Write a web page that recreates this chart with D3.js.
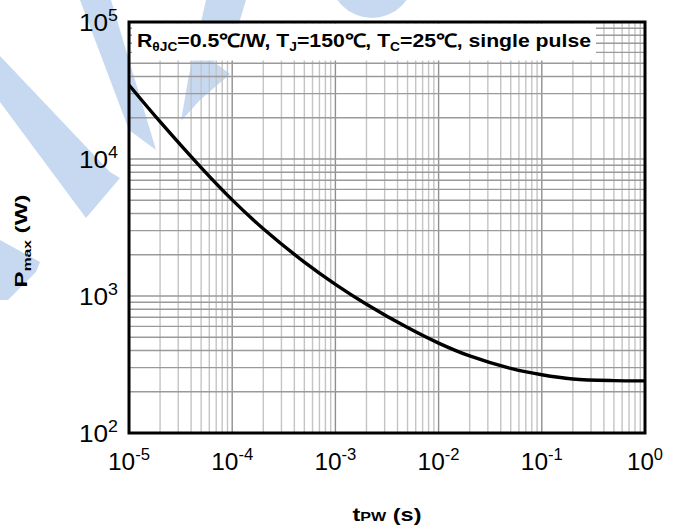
<!DOCTYPE html>
<html>
<head>
<meta charset="utf-8">
<script src="https://cdn.jsdelivr.net/npm/d3@7"></script>
<style>
  html, body { margin: 0; padding: 0; background: #fff; }
  svg { display: block; }
</style>
</head>
<body>
<svg id="chart" width="680" height="526"></svg>
<script>
// Maximum single-pulse power vs. pulse width
const pulseWidths = [1e-5, 2e-5, 5e-5, 1e-4, 2e-4, 5e-4, 1e-3, 2e-3, 5e-3, 1e-2, 2e-2, 5e-2, 1e-1, 2e-1, 5e-1, 1];
const pmaxValues  = [34700, 18720, 8655, 5030, 3094, 1768, 1217, 871, 588, 453, 365, 296, 266, 248, 241, 240];
const xTickValues = [1e-5, 1e-4, 1e-3, 1e-2, 1e-1, 1];
const yTickValues = [1e2, 1e3, 1e4, 1e5];

const svg = d3.select("#chart");
const margin = { left: 129, right: 35, top: 22, bottom: 93 };
const W = 680, H = 526;
const x = d3.scaleLog().domain([1e-5, 1]).range([margin.left, W - margin.right]);
const y = d3.scaleLog().domain([1e2, 1e5]).range([H - margin.bottom, margin.top]);

const FONT = "Liberation Sans, Arial, Helvetica, sans-serif";

// faint background logo strokes
const wm = svg.append("g").attr("fill", "#c6d9f1");
[
  [[0,56],[0,102],[86,218],[120,178],[110,172]],
  [[80,0],[111,0],[156,150],[129,130]],
  [[206,0],[246,0],[234,40],[214,62],[230,74],[200,100],[181,121],[188,80]],
  [[0,240],[40,262],[36,272],[8,300],[0,300]]
].forEach(p => wm.append("path").attr("d", d3.line()(p) + "Z"));
wm.append("ellipse").attr("cx", 372).attr("cy", -24).attr("rx", 42).attr("ry", 42);

// grid
const grid = svg.append("g");
const isMajor = v => Math.abs(Math.log10(v) - Math.round(Math.log10(v))) < 1e-9;
x.ticks().forEach(v => {
  if (v <= x.domain()[0] || v >= x.domain()[1]) return;
  grid.append("line")
    .attr("x1", x(v)).attr("x2", x(v))
    .attr("y1", y.range()[0]).attr("y2", y.range()[1])
    .attr("stroke", isMajor(v) ? "#8f8f8f" : "#c4c4c4")
    .attr("stroke-width", 1.4);
});
y.ticks().forEach(v => {
  if (v <= y.domain()[0] || v >= y.domain()[1]) return;
  grid.append("line")
    .attr("y1", y(v)).attr("y2", y(v))
    .attr("x1", x.range()[0]).attr("x2", x.range()[1])
    .attr("stroke", "#9a9a9a")
    .attr("stroke-width", 1.4);
});

// condition box
svg.append("rect")
  .attr("x", x.range()[0] + 3).attr("y", y.range()[1] + 1.5)
  .attr("width", 464).attr("height", 37)
  .attr("fill", "#fff");

const title = svg.append("text")
  .attr("x", x.range()[0] + 8).attr("y", 47)
  .attr("font-family", FONT).attr("font-weight", "bold").attr("font-size", 18.5)
  .attr("textLength", 454).attr("lengthAdjust", "spacingAndGlyphs")
  .attr("fill", "#000");
const titleParts = [
  ["R", false], ["θJC", true], ["=0.5℃/W, T", false], ["J", true],
  ["=150℃, T", false], ["C", true], ["=25℃, single pulse", false]
];
titleParts.forEach(([t, sub]) => {
  const ts = title.append("tspan").text(t);
  if (sub) ts.attr("dy", 4).attr("font-size", 12);
  else if (t !== "R") ts.attr("dy", -4);
});

// curve
svg.append("path")
  .datum(pulseWidths.map((t, i) => [t, pmaxValues[i]]))
  .attr("fill", "none").attr("stroke", "#000").attr("stroke-width", 3.4)
  .attr("d", d3.line().x(d => x(d[0])).y(d => y(d[1])).curve(d3.curveCatmullRom.alpha(0.5)));

// frame
svg.append("rect")
  .attr("x", x.range()[0]).attr("y", y.range()[1])
  .attr("width", x.range()[1] - x.range()[0]).attr("height", y.range()[0] - y.range()[1])
  .attr("fill", "none").attr("stroke", "#000").attr("stroke-width", 3);

// tick labels: 10 with a raised exponent
function powerLabel(sel, v) {
  const e = Math.round(Math.log10(v));
  sel.append("tspan").text("10");
  sel.append("tspan").attr("dy", -10).attr("font-size", 16).text(String(e));
}
xTickValues.forEach(v => {
  const e = Math.round(Math.log10(v));
  const t = svg.append("text")
    .attr("x", x(v)).attr("y", 470)
    .attr("text-anchor", "middle")
    .attr("font-family", FONT).attr("font-size", 23.5).attr("fill", "#000")
    .attr("textLength", e < 0 ? 42 : 36).attr("lengthAdjust", "spacingAndGlyphs");
  powerLabel(t, v);
});
yTickValues.forEach(v => {
  const t = svg.append("text")
    .attr("x", 118).attr("y", y(v) + 9)
    .attr("text-anchor", "end")
    .attr("font-family", FONT).attr("font-size", 23.5).attr("fill", "#000")
    .attr("textLength", 39).attr("lengthAdjust", "spacingAndGlyphs");
  powerLabel(t, v);
});

// axis titles
const xt = svg.append("text")
  .attr("x", (x.range()[0] + x.range()[1]) / 2).attr("y", 521)
  .attr("text-anchor", "middle")
  .attr("font-family", FONT).attr("font-weight", "bold").attr("font-size", 19)
  .attr("textLength", 69).attr("lengthAdjust", "spacingAndGlyphs");
xt.append("tspan").text("t");
xt.append("tspan").attr("font-size", 13).text("PW");
xt.append("tspan").text(" (s)");

const yt = svg.append("text")
  .attr("transform", "translate(27,241) rotate(-90)")
  .attr("text-anchor", "middle")
  .attr("font-family", FONT).attr("font-weight", "bold").attr("font-size", 17)
  .attr("textLength", 93).attr("lengthAdjust", "spacingAndGlyphs");
yt.append("tspan").text("P");
yt.append("tspan").attr("font-size", 11).attr("dy", 4).text("max");
yt.append("tspan").attr("dy", -4).text(" (W)");
</script>
</body>
</html>
